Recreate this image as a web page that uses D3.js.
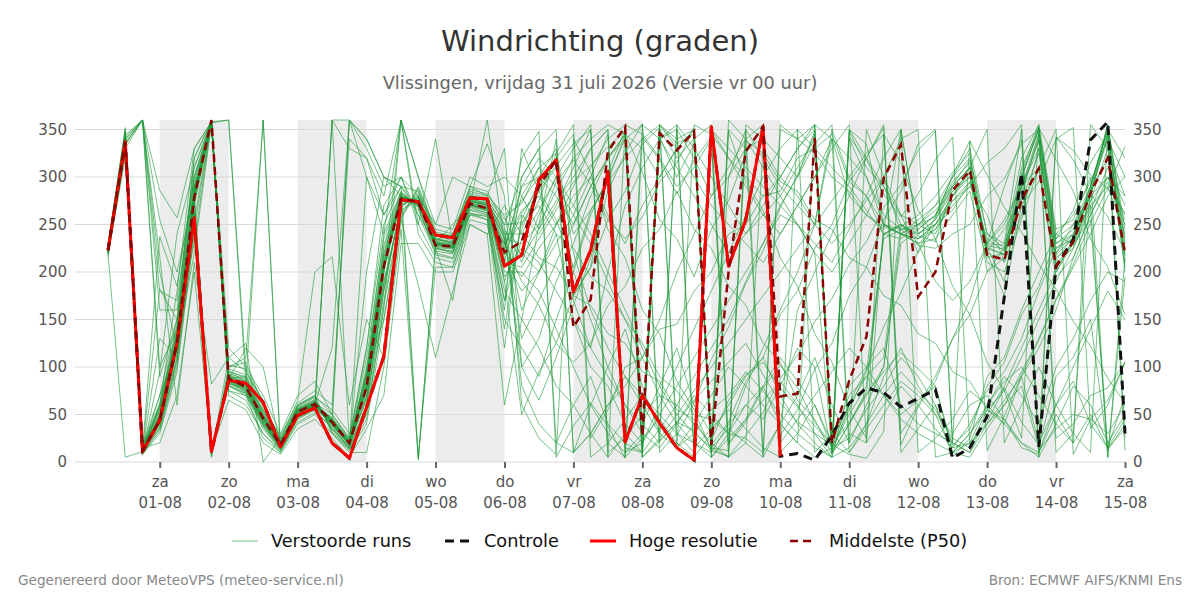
<!DOCTYPE html>
<html>
<head>
<meta charset="utf-8">
<script src="https://cdn.jsdelivr.net/npm/d3@7"></script>
<style>
body { margin: 0; background: #fff; font-family: "DejaVu Sans", sans-serif; }
</style>
</head>
<body>
<script>
// 6-uurlijkse tijdstappen vanaf vr 31-07 06:00
var startTime = new Date(2026, 6, 31, 6);
var stepHours = 6;
var dayNames = ["zo", "ma", "di", "wo", "do", "vr", "za"];
var yTicks = [0, 50, 100, 150, 200, 250, 300, 350];

var hogeResolutie = [223,337,11,44,125,257,11,86,83,63,16,49,57,20,4,58,111,276,274,239,236,278,277,206,
  218,297,318,179,223,306,21,70,41,15,2,353,206,255,353,6];

var controle = [223,337,11,44,125,257,11,86,83,63,16,49,57,20,4,58,111,276,274,239,236,278,277,206,
  218,297,318,179,223,306,21,70,41,15,2,353,206,255,353,
  6,9,2,28,62,78,73,58,67,76,4,15,48,174,304,16,206,234,339,358,30];

var middelste = [223,337,12,44,125,278,360,88,79,46,18,53,61,42,20,79,206,277,274,228,227,272,267,221,
  232,290,318,142,171,327,353,27,346,328,348,18,200,327,353,69,72,341,20,86,132,299,334,174,200,286,307,218,213,276,309,206,232,283,320,220];

// verstoorde runs: eerste 24 stappen
var runsBegin = [
  [225,345,15,60,140,290,358,85,75,40,15,50,60,45,22,90,220,280,270,230,225,275,270,230],
  [220,330,10,38,110,260,10,95,90,55,20,55,65,35,15,60,180,270,280,235,230,280,275,240],
  [228,352,18,70,150,300,355,80,70,35,12,48,58,40,18,100,240,285,265,225,220,270,265,210],
  [222,340,360,160,160,310,359,90,85,50,22,52,62,50,25,120,250,290,285,240,235,285,280,260],
  [218,325,8,30,95,240,5,100,105,60,25,60,70,30,12,40,150,255,290,245,240,290,285,250],
  [224,348,12,50,130,285,357,75,65,30,10,45,55,360,360,330,290,300,260,220,215,265,260,180],
  [226,338,14,55,135,275,8,110,95,65,18,58,68,55,30,70,200,275,275,228,226,270,268,225],
  [221,335,360,100,140,320,360,88,80,48,20,55,62,44,20,85,210,278,272,232,228,274,272,200],
  [219,5,11,40,120,270,355,92,85,360,15,50,60,40,18,75,190,265,278,226,224,268,262,150],
  [227,342,13,48,128,280,356,70,60,30,12,42,52,38,14,50,160,360,240,210,205,260,255,120],
  [223,336,360,200,120,265,12,82,78,44,17,53,60,42,22,65,180,272,276,230,228,276,270,235],
  [225,344,16,62,145,295,358,86,76,42,16,51,60,46,23,95,225,282,270,232,226,277,272,245],
  [220,332,10,35,105,250,6,98,92,58,22,57,66,33,14,55,170,262,285,238,233,283,278,255],
  [224,339,12,47,126,282,357,360,82,47,19,54,63,41,19,80,205,278,275,229,227,273,268,215],
  [222,337,11,44,122,276,358,89,80,47,18,53,61,120,360,340,300,290,5,225,222,270,265,190],
  [226,346,14,58,138,288,358,84,74,39,14,49,59,44,21,88,215,280,271,231,226,276,271,238],
  [221,334,360,90,150,230,359,91,83,49,20,55,63,43,20,82,208,279,273,230,229,275,270,228],
  [223,338,12,46,124,279,15,87,120,100,18,53,62,45,22,110,235,284,268,222,219,266,262,205],
  [225,341,13,52,132,284,358,80,72,38,14,47,57,39,17,70,195,360,300,236,231,281,276,250],
  [220,331,9,36,108,255,358,96,88,52,21,56,64,36,16,60,185,268,282,234,232,279,274,242],
  [227,347,15,57,136,286,357,83,73,41,15,50,60,47,24,92,218,281,272,225,221,269,264,170],
  [222,336,11,43,120,272,359,90,82,48,19,54,62,42,20,78,203,276,276,235,230,280,276,248],
  [224,340,12,49,127,280,10,86,77,45,17,52,61,43,21,84,212,279,274,227,225,271,267,222],
  [219,328,8,33,100,245,358,102,98,62,24,59,69,31,13,45,165,258,288,242,238,287,282,258],
  [226,344,360,180,170,300,358,81,72,37,13,46,56,40,18,300,260,290,268,218,214,262,258,140],
  [223,336,12,45,124,278,357,88,80,46,18,53,61,42,20,79,206,277,274,228,227,272,267,221],
  [221,333,10,40,115,262,8,93,87,53,21,56,64,39,18,68,188,270,279,233,229,277,273,235],
  [225,343,14,54,134,287,358,84,75,42,15,50,59,360,20,95,228,283,271,229,226,274,270,212],
  [222,337,11,45,123,277,359,87,80,47,19,53,62,44,21,81,207,277,2,230,227,273,268,195],
  [224,339,13,48,129,281,358,86,78,44,17,52,60,41,19,77,204,276,275,229,226,271,266,218],
  [216,330,360,286,257,330,358,360,95,60,20,50,58,360,330,320,260,300,250,215,210,262,255,170],
  [230,350,14,237,185,300,360,100,110,360,18,60,70,50,360,340,300,280,270,240,238,290,335,280],
  [225,342,360,216,60,210,82,110,125,0,25,65,200,216,60,150,110,255,186,110,180,250,240,60],
  [220,335,13,182,150,320,358,75,70,25,10,40,50,30,10,10,100,245,4,205,205,255,250,160],
  [223,340,11,95,240,310,357,92,80,55,28,62,75,60,340,320,280,360,300,250,300,290,280,330],
  [226,338,15,20,70,200,12,65,55,20,8,35,45,25,5,35,70,230,230,200,200,250,240,270],
  [221,334,12,130,110,290,358,120,100,70,30,70,85,50,25,120,270,300,280,250,245,300,290,300],
  [224,339,360,255,200,280,359,85,78,42,16,50,58,40,360,300,240,360,250,340,230,260,260,230],
  [218,320,10,60,180,330,358,88,90,50,20,55,60,40,20,200,300,290,260,230,250,270,360,230],
  [227,346,13,70,120,220,356,95,85,45,15,48,55,35,15,95,150,260,280,225,170,280,275,190]
];

// verstoorde runs: laatste 36 stappen
var runsEind = [
  [250,285,310,240,265,295,320,340,355,15,30,55,70,95,75,50,30,15,5,350,335,250,240,235,250,280,300,225,190,300,350,230,240,280,355,230],
  [240,275,325,175,205,305,350,15,342,300,335,22,65,92,105,78,58,38,18,42,72,95,115,98,80,15,20,40,60,80,15,90,110,150,12,40],
  [205,235,265,295,312,332,348,5,22,42,65,85,105,125,92,62,42,30,18,8,4,32,350,240,255,285,305,230,255,290,330,215,230,275,300,260],
  [272,310,325,355,25,55,100,110,140,145,180,200,240,250,280,285,320,330,345,295,280,250,245,228,225,240,250,280,298,335,350,25,40,70,78,105],
  [252,270,240,225,195,180,150,125,90,75,50,45,30,25,10,355,340,325,300,285,260,245,350,240,250,275,290,315,330,355,12,35,50,45,30,60],
  [150,120,80,60,90,40,20,10,355,340,350,5,30,60,45,80,120,100,10,60,90,70,50,65,80,10,30,55,40,90,20,60,85,40,15,35],
  [290,320,300,270,310,340,355,345,320,290,310,340,5,20,330,300,280,250,350,300,280,240,235,250,270,290,310,220,175,270,310,200,235,290,350,200],
  [200,180,140,100,60,30,10,20,50,80,110,140,170,200,230,260,250,220,10,40,70,100,230,245,260,300,330,240,230,350,5,220,250,280,300,280],
  [120,90,150,200,260,300,340,355,10,30,20,5,350,330,340,320,300,345,15,25,55,80,110,90,60,20,10,50,80,120,160,200,230,255,15,45],
  [260,240,270,310,350,10,25,50,70,60,40,20,5,355,340,10,30,60,20,70,90,110,250,235,245,270,290,260,210,260,330,210,225,270,290,240],
  [230,250,285,320,340,355,345,330,300,330,350,10,40,60,80,40,20,5,15,50,80,240,250,238,232,290,310,215,220,310,350,240,228,275,330,220],
  [210,260,300,200,150,100,60,30,15,40,70,50,30,80,120,160,200,250,340,280,260,300,340,350,5,10,20,60,90,70,40,100,130,170,200,190],
  [275,300,280,250,290,320,340,5,355,335,345,15,35,20,5,350,340,355,20,350,320,290,260,250,240,280,305,225,218,285,340,205,230,285,320,210],
  [180,200,240,150,100,80,40,20,60,100,140,180,220,260,300,330,350,10,30,10,40,90,120,80,50,30,60,70,45,20,5,40,80,60,20,50],
  [245,290,320,345,5,20,45,70,40,15,355,345,320,290,260,240,270,300,330,355,20,50,80,60,35,15,40,75,95,130,180,225,240,285,355,235],
  [100,130,190,230,280,320,345,10,35,60,90,120,150,190,230,270,300,335,355,20,60,100,240,235,250,265,295,230,228,320,355,10,30,290,350,25],
  [265,280,250,290,330,350,15,10,340,350,5,30,60,90,110,70,40,20,5,80,100,120,60,40,30,20,10,40,65,90,120,160,215,260,300,255],
  [225,210,180,150,120,90,60,40,20,355,330,300,270,240,260,280,310,340,10,30,20,250,240,230,245,275,295,235,222,280,345,225,235,270,5,215],
  [300,330,350,10,30,60,90,70,50,30,10,350,320,300,280,300,330,350,15,340,300,260,245,245,260,295,315,200,215,300,350,220,240,290,355,245],
  [160,200,250,280,300,260,230,270,300,330,350,5,25,45,65,85,60,30,5,15,40,70,95,75,55,25,15,55,75,110,150,190,225,265,310,270],
  [235,265,300,330,355,20,5,355,340,310,280,250,220,240,270,300,330,355,10,40,75,240,250,240,255,290,310,222,245,275,325,212,238,280,345,225],
  [80,40,20,10,30,60,80,110,150,200,240,280,310,340,355,20,45,70,95,120,100,70,45,30,20,10,5,35,60,95,130,170,205,240,280,300],
  [290,300,330,220,160,120,90,60,30,15,40,70,100,80,60,40,20,355,340,320,300,250,240,255,270,300,320,240,225,290,345,230,245,285,340,215],
  [215,245,275,300,330,350,10,30,355,330,300,270,250,230,210,240,270,300,340,10,35,60,85,70,50,10,30,60,85,100,70,40,20,50,15,70],
  [255,295,320,170,120,200,270,310,340,355,15,35,55,35,15,5,350,330,310,290,265,240,248,260,280,305,325,220,212,300,352,235,250,290,350,205],
  [195,225,250,270,240,200,160,120,80,50,30,15,5,350,320,290,270,250,230,250,275,300,240,230,235,260,285,210,200,255,310,195,215,260,295,250],
  [130,170,210,250,290,320,345,5,25,50,75,100,125,150,175,200,225,250,275,300,325,345,10,35,60,5,25,90,110,160,200,240,260,295,340,300],
  [280,310,290,260,230,190,150,110,70,40,20,10,360,340,310,280,250,220,200,230,260,248,240,250,265,285,300,228,224,305,355,245,255,300,5,195],
  [220,200,230,260,300,345,5,25,45,20,5,350,330,310,290,270,250,230,210,245,280,320,350,10,25,45,75,60,40,20,10,60,100,140,180,150],
  [262,288,312,335,350,5,30,10,350,320,340,355,20,45,80,110,85,60,15,55,95,235,245,250,258,292,318,226,218,290,338,218,236,282,345,218],
  [300,330,20,60,30,5,350,40,80,120,60,30,300,350,10,40,160,200,240,280,320,355,30,60,90,130,170,230,290,340,10,50,20,355,330,280],
  [60,25,8,340,305,245,215,160,135,85,55,12,348,295,265,215,185,135,105,55,25,345,315,265,235,185,155,105,75,25,352,318,285,235,205,155],
  [150,250,340,10,60,100,140,80,30,350,320,280,300,330,5,40,70,110,60,20,350,300,260,220,250,280,310,350,20,60,100,60,30,10,350,320],
  [330,285,255,205,265,295,345,305,255,235,195,245,275,325,352,28,55,98,125,175,205,255,285,335,350,18,35,80,105,155,185,235,265,315,345,12],
  [100,65,110,165,215,285,325,356,22,42,33,12,6,28,52,88,112,148,172,208,232,268,292,328,348,22,338,302,268,242,208,182,148,122,88,62],
  [240,215,205,175,165,135,125,95,85,55,45,15,12,338,325,295,285,255,245,215,205,175,165,135,125,95,85,55,45,15,8,342,328,302,288,262],
  [280,245,295,318,292,255,235,258,295,315,352,18,42,85,110,155,180,225,250,295,320,352,18,58,85,130,155,200,225,270,295,340,352,35,60,105],
  [190,165,125,105,125,165,185,225,245,285,245,225,185,165,125,105,65,45,8,348,310,290,250,230,190,170,190,230,250,290,310,350,8,45,65,105],
  [320,348,5,38,62,38,4,342,318,282,318,342,18,42,78,102,78,42,18,342,318,282,258,282,318,342,18,42,78,42,18,342,318,282,258,222],
  [50,95,125,175,205,255,285,335,352,28,62,108,142,188,222,268,302,348,18,62,98,142,178,222,258,302,338,12,48,92,128,172,208,252,288,332]
];

var verstoordeRuns = runsBegin.map(function(b, k) { return b.concat(runsEind[k]); });

var svgWidth = 1200;
var svgHeight = 600;
var plotLeft = 75;
var plotRight = 1125;
var plotTop = 120;
var plotBottom = 462;

var svg = d3.select("body")
    .append("svg")
    .attr("width", svgWidth)
    .attr("height", svgHeight)
    .style("font-family", "'DejaVu Sans', sans-serif");

function timeAt(i) {
    return d3.timeHour.offset(startTime, i * stepHours);
}

var xStart = d3.timeMinute.offset(startTime, -690);
var xEnd = new Date(2026, 7, 15, 0);

var x = d3.scaleTime()
    .domain([xStart, xEnd])
    .range([plotLeft, plotRight]);

var y = d3.scaleLinear()
    .domain([0, 360])
    .range([plotBottom, plotTop]);

// grijze banden voor om de andere dag
var days = d3.timeDay.range(new Date(2026, 7, 1), xEnd);
svg.append("g")
    .selectAll("rect")
    .data(days.filter(function(d, i) { return i % 2 === 0; }))
    .enter().append("rect")
    .attr("x", d => x(d))
    .attr("y", plotTop)
    .attr("width", d => x(d3.timeDay.offset(d, 1)) - x(d))
    .attr("height", plotBottom - plotTop)
    .attr("fill", "#ececec");

// rasterlijnen
svg.append("g")
    .selectAll("line")
    .data(yTicks)
    .enter().append("line")
    .attr("x1", plotLeft)
    .attr("x2", plotRight)
    .attr("y1", d => y(d))
    .attr("y2", d => y(d))
    .attr("stroke", "#d9d9d9")
    .attr("stroke-width", 1);

// y-as links en rechts
var leftAxis = d3.axisLeft(y).tickValues(yTicks).tickSize(0).tickPadding(8);
var rightAxis = d3.axisRight(y).tickValues(yTicks).tickSize(0).tickPadding(8);

var gLeft = svg.append("g")
    .attr("transform", `translate(${plotLeft}, 0)`)
    .call(leftAxis);
var gRight = svg.append("g")
    .attr("transform", `translate(${plotRight}, 0)`)
    .call(rightAxis);
[gLeft, gRight].forEach(function(g) {
    g.select(".domain").remove();
    g.selectAll("text")
        .attr("font-size", 15)
        .attr("font-family", "'DejaVu Sans', sans-serif")
        .attr("fill", "#555");
});

// x-as met dagnaam en datum
var bottomAxis = d3.axisBottom(x)
    .tickValues(d3.timeDay.range(new Date(2026, 7, 1), d3.timeDay.offset(xEnd, 1)))
    .tickSize(6)
    .tickFormat("");
var gBottom = svg.append("g")
    .attr("transform", `translate(0, ${plotBottom})`)
    .call(bottomAxis);
gBottom.select(".domain").remove();
gBottom.selectAll(".tick line").attr("stroke", "#666").attr("stroke-width", 2);

var fmtDate = d3.timeFormat("%d-%m");
gBottom.selectAll(".tick").each(function(d) {
    var t = d3.select(this).append("text")
        .attr("fill", "#555")
        .attr("font-size", 15)
        .attr("font-family", "'DejaVu Sans', sans-serif")
        .attr("text-anchor", "middle");
    t.append("tspan").attr("x", 0).attr("y", 25).text(dayNames[d.getDay()]);
    t.append("tspan").attr("x", 0).attr("y", 46).text(fmtDate(d));
});

var line = d3.line()
    .x((d, i) => x(timeAt(i)))
    .y(d => y(d));

var plot = svg.append("g");

plot.selectAll(".run")
    .data(verstoordeRuns)
    .enter().append("path")
    .attr("class", "run")
    .attr("d", d => line(d))
    .attr("fill", "none")
    .attr("stroke", "#1f9a3a")
    .attr("stroke-opacity", 0.6)
    .attr("stroke-width", 1);

plot.append("path")
    .attr("d", line(controle))
    .attr("fill", "none")
    .attr("stroke", "#111")
    .attr("stroke-width", 3)
    .attr("stroke-dasharray", "9,6");

plot.append("path")
    .attr("d", line(hogeResolutie))
    .attr("fill", "none")
    .attr("stroke", "#ff0000")
    .attr("stroke-width", 3)
    .attr("stroke-linejoin", "round");

plot.append("path")
    .attr("d", line(middelste))
    .attr("fill", "none")
    .attr("stroke", "#8b0000")
    .attr("stroke-width", 2.5)
    .attr("stroke-dasharray", "8,5");

// titels
svg.append("text")
    .attr("x", 600).attr("y", 51)
    .attr("text-anchor", "middle")
    .attr("font-size", 29)
    .attr("fill", "#333")
    .text("Windrichting (graden)");

svg.append("text")
    .attr("x", 600).attr("y", 89)
    .attr("text-anchor", "middle")
    .attr("font-size", 17.8)
    .attr("fill", "#666")
    .text("Vlissingen, vrijdag 31 juli 2026 (Versie vr 00 uur)");

// legenda
var legendItems = [
    { label: "Verstoorde runs", x: 232, color: "#1f9a3a", width: 1, dash: null, opacity: 0.6 },
    { label: "Controle", x: 445, color: "#111", width: 3, dash: "9,6", opacity: 1 },
    { label: "Hoge resolutie", x: 590, color: "#ff0000", width: 3, dash: null, opacity: 1 },
    { label: "Middelste (P50)", x: 790, color: "#8b0000", width: 2.5, dash: "8,5", opacity: 1 }
];
var legend = svg.append("g").attr("transform", "translate(0, 541)");
legendItems.forEach(function(it) {
    legend.append("line")
        .attr("x1", it.x).attr("x2", it.x + 26)
        .attr("y1", 0).attr("y2", 0)
        .attr("stroke", it.color)
        .attr("stroke-width", it.width)
        .attr("stroke-opacity", it.opacity)
        .attr("stroke-dasharray", it.dash);
    legend.append("text")
        .attr("x", it.x + 39).attr("y", 6)
        .attr("font-size", 17.7)
        .attr("fill", "#111")
        .text(it.label);
});

// voetregel
svg.append("text")
    .attr("x", 18).attr("y", 585)
    .attr("font-size", 13.6)
    .attr("fill", "#888")
    .text("Gegenereerd door MeteoVPS (meteo-service.nl)");
svg.append("text")
    .attr("x", 1182).attr("y", 585)
    .attr("text-anchor", "end")
    .attr("font-size", 13.6)
    .attr("fill", "#888")
    .text("Bron: ECMWF AIFS/KNMI Ens");
</script>
</body>
</html>
